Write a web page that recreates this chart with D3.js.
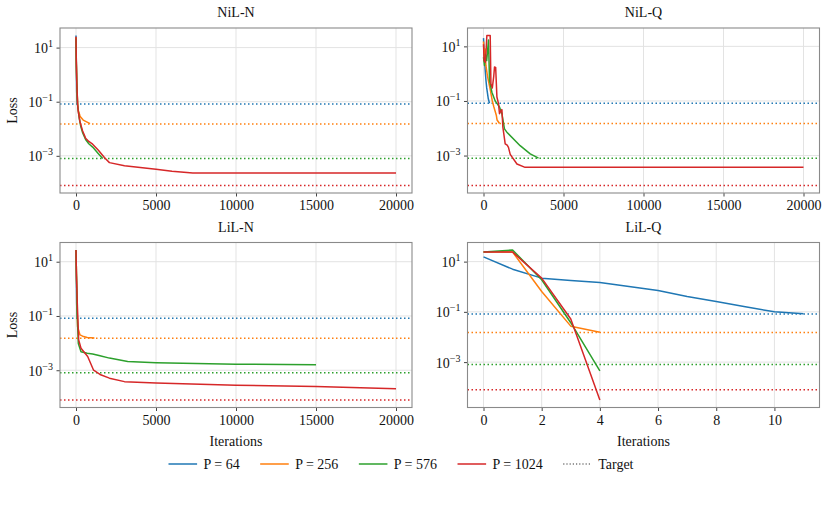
<!DOCTYPE html>
<html>
<head>
<meta charset="utf-8">
<script src="https://cdn.jsdelivr.net/npm/d3@7"></script>
<style>
  body { margin: 0; background: #fff; }
  svg { display: block; font-family: "Liberation Serif", "DejaVu Serif", serif; }
</style>
</head>
<body>
<div id="graph-container"></div>
<script>

/////////////////////////////////////////////////////////////////////////////
                      ///////    Data    ///////
/////////////////////////////////////////////////////////////////////////////

var series_names = ['P = 64', 'P = 256', 'P = 576', 'P = 1024'];
var series_colors = ['#1f77b4', '#ff7f0e', '#2ca02c', '#d62728'];
var targets = [0.083, 0.015, 0.0008, 0.00008];

var iter_ticks = [0, 5000, 10000, 15000, 20000];
var step_ticks = [0, 2, 4, 6, 8, 10];
var loss_ticks = [1e1, 1e-1, 1e-3];
var loss_exponents = ['1', '\u22121', '\u22123'];

// NiL-N  [iteration, loss]
var nilN_64   = [[0,28],[20,3],[40,0.24],[80,0.083]];
var nilN_256  = [[0,24],[20,3],[50,0.5],[100,0.085],[150,0.045],[250,0.03],[313,0.026],[450,0.021],[877,0.0155]];
var nilN_576  = [[0,22],[20,2.5],[50,0.45],[100,0.075],[200,0.025],[300,0.012],[420,0.007],[600,0.004],[800,0.0028],[1040,0.0021],[1400,0.0012],[1670,0.0008]];
var nilN_1024 = [[0,25],[20,3],[50,0.5],[100,0.08],[150,0.04],[250,0.018],[414,0.0083],[600,0.0045],[800,0.0034],[1040,0.0027],[1400,0.0016],[1775,0.00087],[2090,0.00056],[3030,0.00043],[5000,0.00032],[6000,0.00027],[7300,0.00023],[20000,0.00023]];

// NiL-Q
var nilQ_64   = [[0,20],[50,5],[100,1.5],[150,0.6],[200,0.3],[300,0.12],[375,0.082]];
var nilQ_256  = [[0,15],[50,3],[100,8],[150,2],[250,0.8],[400,0.3],[550,0.1],[650,0.06],[800,0.03],[850,0.02],[1000,0.015]];
var nilQ_576  = [[0,4],[60,2],[120,5],[200,3],[313,17],[375,0.56],[525,0.21],[731,0.1],[850,0.08],[1000,0.06],[1150,0.034],[1310,0.0095],[1460,0.0072],[2290,0.0023],[2920,0.00115],[3440,0.0008]];
var nilQ_1024 = [[0,12],[40,3],[106,2.6],[150,5],[210,25],[419,25],[463,0.43],[550,0.3],[640,0.8],[688,1.74],[760,1.7],[838,0.14],[938,0.08],[1000,0.034],[1100,0.045],[1150,0.048],[1210,0.011],[1356,0.0027],[1480,0.0024],[1560,0.002],[1670,0.0011],[2090,0.00049],[2600,0.00037],[20000,0.00037]];

// LiL-N
var lilN_64   = [[0,27],[20,3],[40,0.3],[70,0.083]];
var lilN_256  = [[0,27],[30,3],[60,0.4],[100,0.04],[250,0.02],[414,0.018],[700,0.016],[1150,0.0155]];
var lilN_576  = [[0,27],[30,3],[80,0.1],[145,0.0097],[313,0.0048],[700,0.0042],[1040,0.004],[1500,0.0034],[2090,0.0028],[3230,0.0021],[5000,0.0019],[10000,0.00166],[15000,0.0016]];
var lilN_1024 = [[0,27],[30,3],[80,0.3],[167,0.013],[313,0.0065],[730,0.0032],[1100,0.001],[1500,0.0007],[2090,0.00051],[3030,0.00038],[5000,0.00034],[10000,0.00028],[15000,0.00025],[20000,0.00021]];

// LiL-Q  (one value per iteration)
var lilQ_64   = [15.4, 5, 2.2, 1.78, 1.48, 1.02, 0.71, 0.41, 0.26, 0.16, 0.10, 0.085];
var lilQ_256  = [24, 24, 0.65, 0.027, 0.0155];
var lilQ_576  = [24, 29, 1.9, 0.037, 0.00045];
var lilQ_1024 = [24, 24, 2.2, 0.052, 0.000031];

let per_step = (arr) => arr.map((v, i) => [i, v]);

var panels = [
    {title: 'NiL-N', row: 0, col: 0, x_ticks: iter_ticks, series: [nilN_64, nilN_256, nilN_576, nilN_1024]},
    {title: 'NiL-Q', row: 0, col: 1, x_ticks: iter_ticks, series: [nilQ_64, nilQ_256, nilQ_576, nilQ_1024]},
    {title: 'LiL-N', row: 1, col: 0, x_ticks: iter_ticks, series: [lilN_64, lilN_256, lilN_576, lilN_1024]},
    {title: 'LiL-Q', row: 1, col: 1, x_ticks: step_ticks, series: [lilQ_64, lilQ_256, lilQ_576, lilQ_1024].map(per_step)},
];

/////////////////////////////////////////////////////////////////////////////
                      ///////    Layout    ///////
/////////////////////////////////////////////////////////////////////////////

var W = 827, H = 512;
var col_left = [60, 467.5];
var row_top = [28, 242.5];
var pw = 352, ph = 165;
var font_size = 14;

var svg = d3.select('#graph-container').append('svg')
    .attr('width', W).attr('height', H)
    .attr('xmlns', 'http://www.w3.org/2000/svg');

svg.append('rect').attr('width', W).attr('height', H).attr('fill', '#fff');

panels.forEach(function (p, k) {

    var left = col_left[p.col], top = row_top[p.row];
    var g = svg.append('g').attr('transform', `translate(${left},${top})`);

    // matplotlib style 5% margins (log space for y)
    var all = d3.merge(p.series);
    var xe = d3.extent(all, d => d[0]);
    var xm = (xe[1] - xe[0]) * 0.05;
    var lv = all.map(d => Math.log10(d[1])).concat(targets.map(Math.log10));
    var ye = d3.extent(lv);
    var ym = (ye[1] - ye[0]) * 0.05;

    var x = d3.scaleLinear().domain([xe[0] - xm, xe[1] + xm]).range([0, pw]);
    var y = d3.scaleLog().domain([Math.pow(10, ye[0] - ym), Math.pow(10, ye[1] + ym)]).range([ph, 0]);

    // grid
    g.append('g').selectAll('line').data(p.x_ticks).join('line')
        .attr('x1', d => x(d)).attr('x2', d => x(d))
        .attr('y1', 0).attr('y2', ph)
        .attr('stroke', '#e3e3e3').attr('stroke-width', 1);
    g.append('g').selectAll('line').data(loss_ticks).join('line')
        .attr('x1', 0).attr('x2', pw)
        .attr('y1', d => y(d)).attr('y2', d => y(d))
        .attr('stroke', '#e3e3e3').attr('stroke-width', 1);

    var clip_id = 'clip' + k;
    g.append('clipPath').attr('id', clip_id)
        .append('rect').attr('width', pw).attr('height', ph);
    var plot = g.append('g').attr('clip-path', `url(#${clip_id})`);

    // target lines
    plot.selectAll('.target').data(targets).join('line')
        .attr('class', 'target')
        .attr('x1', 0).attr('x2', pw)
        .attr('y1', d => y(d)).attr('y2', d => y(d))
        .attr('stroke', (d, i) => series_colors[i])
        .attr('stroke-width', 1.5)
        .attr('stroke-dasharray', '1.5,2.5');

    var line = d3.line().x(d => x(d[0])).y(d => y(d[1]));
    plot.selectAll('.curve').data(p.series).join('path')
        .attr('class', 'curve')
        .attr('d', line)
        .attr('fill', 'none')
        .attr('stroke', (d, i) => series_colors[i])
        .attr('stroke-width', 1.5)
        .attr('stroke-linejoin', 'round');

    // axes
    var xa = d3.axisBottom(x).tickValues(p.x_ticks).tickSize(3.5).tickPadding(4).tickFormat(d3.format('d'));
    var xg = g.append('g').attr('transform', `translate(0,${ph})`).call(xa);
    xg.select('.domain').remove();
    xg.selectAll('line').attr('stroke', '#444');
    xg.selectAll('text').attr('font-family', 'Liberation Serif').attr('font-size', font_size).attr('fill', '#111');

    var ya = d3.axisLeft(y).tickValues(loss_ticks).tickSize(3.5).tickFormat('');
    var yg = g.append('g').call(ya);
    yg.select('.domain').remove();
    yg.selectAll('line').attr('stroke', '#444');
    yg.selectAll('.tick').each(function (d, i) {
        var t = d3.select(this).append('text')
            .attr('x', -7).attr('dy', '0.35em')
            .attr('text-anchor', 'end')
            .attr('font-family', 'Liberation Serif')
            .attr('font-size', font_size)
            .attr('fill', '#111');
        t.append('tspan').text('10');
        t.append('tspan').attr('dy', -6).attr('font-size', 10).text(loss_exponents[i]);
    });

    // frame
    g.append('rect').attr('width', pw).attr('height', ph)
        .attr('fill', 'none').attr('stroke', '#8a8a8a').attr('stroke-width', 1.1);

    // title
    g.append('text').attr('x', pw / 2).attr('y', -11)
        .attr('text-anchor', 'middle').attr('font-size', font_size).attr('fill', '#111')
        .text(p.title);

    if (p.col === 0) {
        g.append('text')
            .attr('transform', `translate(${12 - left},${ph / 2}) rotate(-90)`)
            .attr('text-anchor', 'middle').attr('dy', '0.35em')
            .attr('font-size', font_size).attr('fill', '#111')
            .text('Loss');
    }
    if (p.row === 1) {
        g.append('text').attr('x', pw / 2).attr('y', ph + 38)
            .attr('text-anchor', 'middle').attr('font-size', font_size).attr('fill', '#111')
            .text('Iterations');
    }
});

/////////////////////////////////////////////////////////////////////////////
                      ///////    Legend    ///////
/////////////////////////////////////////////////////////////////////////////

var legend_items = series_names.map((n, i) => ({name: n, color: series_colors[i], dash: null}))
    .concat([{name: 'Target', color: '#333', dash: '1.2,2'}]);

var legend = svg.append('g');
var handle_len = 28.6, handle_pad = 6.4, col_gap = 20.5;
var cx = 0;
legend_items.forEach(function (item) {
    var it = legend.append('g').attr('transform', `translate(${cx},0)`);
    it.append('line').attr('x1', 0).attr('x2', handle_len)
        .attr('stroke', item.color).attr('stroke-width', item.dash ? 1.2 : 1.5)
        .attr('stroke-dasharray', item.dash);
    var t = it.append('text').attr('x', handle_len + handle_pad).attr('dy', '0.35em')
        .attr('font-size', font_size).attr('fill', '#111').text(item.name);
    cx += handle_len + handle_pad + t.node().getComputedTextLength() + col_gap;
});
cx -= col_gap;
legend.attr('transform', `translate(${401 - cx / 2},464)`);

</script>
</body>
</html>
